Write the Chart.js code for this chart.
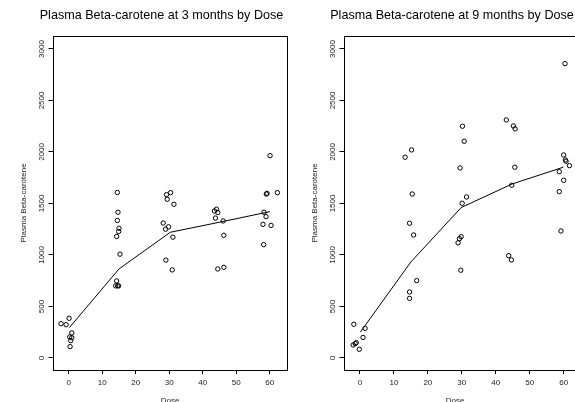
<!DOCTYPE html>
<html>
<head>
<meta charset="utf-8">
<script src="https://cdn.jsdelivr.net/npm/chart.js@4"></script>
<style>
  html, body { margin: 0; padding: 0; background: #fff; overflow: hidden; }
  body { width: 575px; height: 402px; position: relative; }
  .panel { position: absolute; top: 0; height: 402px; }
  #p3 { left: 0; width: 290px; }
  #p9 { left: 290px; width: 295px; }
</style>
</head>
<body>
<div class="panel" id="p3"><canvas id="chart3" width="290" height="402"></canvas></div>
<div class="panel" id="p9"><canvas id="chart9" width="295" height="402"></canvas></div>
<script>
// jittered dose and plasma beta-carotene, 3 months
const dose3 = [0.1, -2.3, -0.8, 0.9, 0.3, 0.9, 0.6, 0.4,
  14.5, 14.7, 14.5, 15.0, 14.9, 14.3, 15.3, 14.3, 14.0, 14.6, 14.9,
  29.2, 30.4, 29.4, 31.4, 28.2, 29.8, 28.9, 31.1, 29.0, 30.9,
  43.5, 44.1, 44.5, 43.8, 46.1, 46.3, 44.5, 46.3,
  60.1, 59.0, 59.2, 62.3, 58.3, 58.9, 58.0, 60.4, 58.2];
const carotene3 = [385, 333, 323, 243, 204, 197, 168, 110,
  1607, 1415, 1335, 1259, 1228, 1180, 1008, 748, 700, 700, 700,
  1586, 1605, 1541, 1492, 1310, 1273, 1250, 1173, 950, 855,
  1427, 1444, 1412, 1358, 1330, 1191, 864, 880,
  1964, 1592, 1598, 1605, 1415, 1372, 1297, 1287, 1100];

// 9 months
const dose9 = [-1.8, 1.5, 0.9, -1.1, -1.4, -2.0, -0.2,
  15.2, 13.3, 15.4, 14.6, 15.8, 16.7, 14.6, 14.6,
  30.2, 30.7, 29.5, 31.4, 30.1, 29.8, 29.3, 28.9, 29.7,
  43.1, 45.2, 45.7, 45.6, 44.7, 43.8, 44.6,
  60.4, 60.0, 60.5, 60.7, 61.7, 58.7, 60.0, 58.7, 59.2];
const carotene9 = [327, 288, 199, 149, 139, 126, 84,
  2020, 1949, 1592, 1308, 1194, 751, 641, 578,
  2250, 2104, 1845, 1563, 1502, 1177, 1158, 1118, 852,
  2311, 2253, 2224, 1852, 1677, 993, 952,
  2858, 1971, 1923, 1910, 1867, 1809, 1725, 1615, 1233];

// trend line through the dose groups
const lineDose3 = [0.2, 15.0, 30.3, 45.3, 60.1];
const lineLevel3 = [295, 864, 1220, 1320, 1421];
const lineDose9 = [0.1, 15.0, 29.8, 44.8, 59.9];
const lineLevel9 = [250, 932, 1460, 1689, 1852];

const xTicks = [0, 10, 20, 30, 40, 50, 60];
const yTicks = [0, 500, 1000, 1500, 2000, 2500, 3000];

const FONT = '"Liberation Sans", Arial, Helvetica, sans-serif';

function toPoints(xs, ys) {
  return xs.map((x, i) => ({ x: x, y: ys[i] }));
}

// box, rotated y labels, axis titles and main title in R style
const rDecor = {
  id: 'rDecor',
  afterDraw(chart, args, opts) {
    const ctx = chart.ctx;
    const a = chart.chartArea;
    ctx.save();
    ctx.strokeStyle = '#000';
    ctx.lineWidth = 1;
    ctx.strokeRect(Math.round(a.left) + 0.5, Math.round(a.top) + 0.5,
      Math.round(a.right - a.left), Math.round(a.bottom - a.top));

    ctx.fillStyle = '#222';
    ctx.font = '8px ' + FONT;
    ctx.textAlign = 'center';
    ctx.textBaseline = 'middle';
    const ys = chart.scales.y;
    ys.ticks.forEach(t => {
      const py = ys.getPixelForValue(t.value);
      ctx.save();
      ctx.translate(a.left - 11.5, py);
      ctx.rotate(-Math.PI / 2);
      ctx.fillText(String(t.value), 0, 0);
      ctx.restore();
    });

    ctx.save();
    ctx.translate(a.left - 29.5, (a.top + a.bottom) / 2);
    ctx.rotate(-Math.PI / 2);
    ctx.fillText(opts.yTitle, 0, 0);
    ctx.restore();

    ctx.fillText(opts.xTitle, opts.xTitleX, 401);

    ctx.fillStyle = '#000';
    ctx.font = '12.6px ' + FONT;
    ctx.fillText(opts.title, opts.titleX, 16);
    ctx.restore();
  }
};

function makeConfig(xs, ys, lx, ly, title, titleX, xTitleX, yWidth, padRight) {
  return {
    type: 'scatter',
    data: {
      datasets: [{
        data: toPoints(xs, ys),
        pointStyle: 'circle',
        pointRadius: 2.2,
        pointBorderWidth: 1,
        borderColor: '#000',
        backgroundColor: 'rgba(0,0,0,0)',
        pointHoverRadius: 2.2
      }, {
        data: toPoints(lx, ly),
        showLine: true,
        pointRadius: 0,
        borderColor: '#000',
        borderWidth: 1,
        tension: 0,
        fill: false
      }]
    },
    options: {
      responsive: false,
      animation: false,
      layout: { padding: { top: 36, right: padRight, bottom: 0, left: 0 } },
      plugins: {
        legend: { display: false },
        tooltip: { enabled: false },
        rDecor: { title: title, titleX: titleX, xTitle: 'Dose', xTitleX: xTitleX, yTitle: 'Plasma Beta-carotene' }
      },
      scales: {
        x: {
          type: 'linear',
          min: -4.7,
          max: 65.1,
          afterBuildTicks: s => { s.ticks = xTicks.map(v => ({ value: v })); },
          afterFit: s => { s.height = 32; },
          grid: { drawOnChartArea: false, drawTicks: true, tickLength: 4, color: '#000' },
          border: { display: false },
          ticks: { color: '#222', font: { family: FONT, size: 8 }, padding: 4, maxRotation: 0 }
        },
        y: {
          type: 'linear',
          min: -117,
          max: 3126,
          afterBuildTicks: s => { s.ticks = yTicks.map(v => ({ value: v })); },
          afterFit: s => { s.width = yWidth; },
          grid: { drawOnChartArea: false, drawTicks: true, tickLength: 4.5, color: '#000' },
          border: { display: false },
          ticks: { display: false }
        }
      }
    },
    plugins: [rDecor]
  };
}

window.addEventListener('DOMContentLoaded', () => {
  new Chart(document.getElementById('chart3').getContext('2d'),
    makeConfig(dose3, carotene3, lineDose3, lineLevel3,
      'Plasma Beta-carotene at 3 months by Dose', 161.5, 170, 53, 2));
  new Chart(document.getElementById('chart9').getContext('2d'),
    makeConfig(dose9, carotene9, lineDose9, lineLevel9,
      'Plasma Beta-carotene at 9 months by Dose', 162, 165, 54, 4));
});
</script>
</body>
</html>
